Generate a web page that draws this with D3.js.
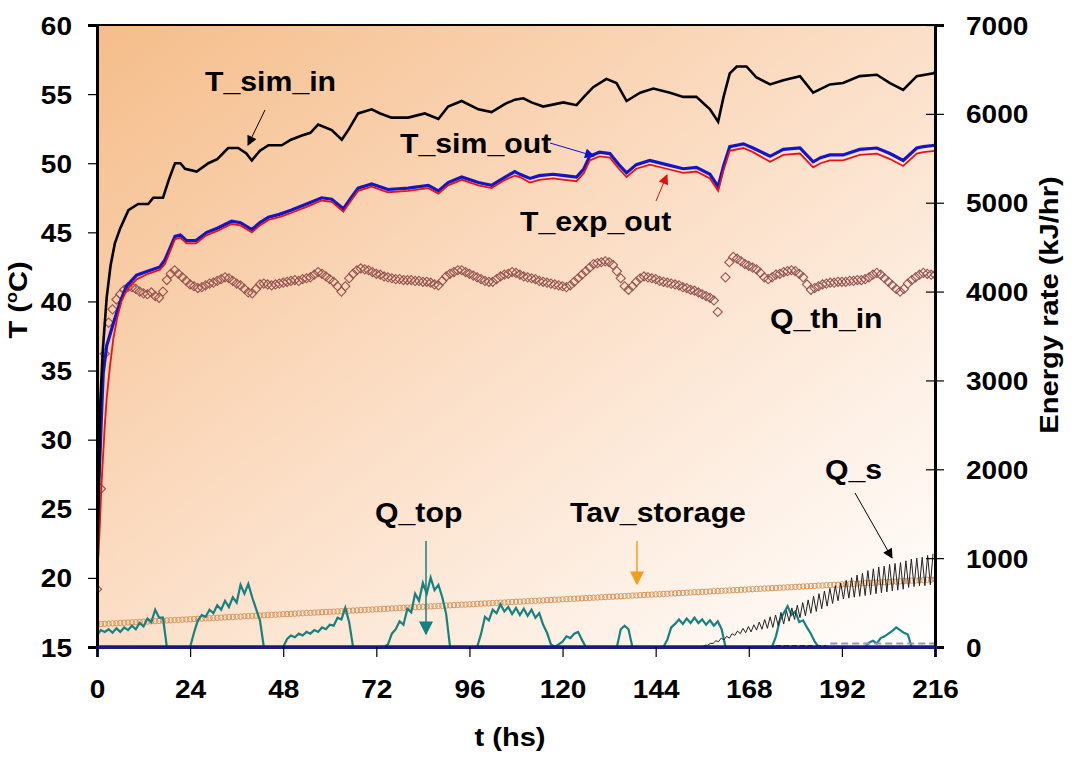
<!DOCTYPE html>
<html>
<head>
<meta charset="utf-8">
<script src="https://cdn.jsdelivr.net/npm/d3@7/dist/d3.min.js"></script>
<style>
  body { margin: 0; background: #fff; }
  svg { display: block; font-family: Arial, "Liberation Sans", sans-serif; font-weight: bold; }
</style>
</head>
<body>
<div id="chart"></div>
<script>
// ---- ticks ----
const hourTicks = [0, 24, 48, 72, 96, 120, 144, 168, 192, 216];
const tempTicks = [15, 20, 25, 30, 35, 40, 45, 50, 55, 60];
const energyTicks = [0, 1000, 2000, 3000, 4000, 5000, 6000, 7000];

// ---- temperature series [t (h), T (C)] ----
const tSimIn = [[0,19.5],[0.4,26],[0.8,32.4],[1.5,36.5],[2.5,40.3],[3.5,42.6],[4.6,44.2],[6,45.3],[8.1,46.6],[10.6,47.05],[13.2,47.05],[14.5,47.5],[17,47.5],[18.5,48.8],[20.1,50.0],[21.5,50.0],[22.7,49.6],[25.7,49.4],[28.7,50.0],[31,50.3],[33.8,51.1],[36.4,51.1],[38.5,50.7],[39.9,50.2],[42,50.9],[44.2,51.3],[47.6,51.3],[50,51.7],[52.8,52.0],[55,52.2],[57,52.8],[60.5,52.4],[63.1,51.7],[65,52.5],[67.3,53.6],[70.8,53.9],[73,53.6],[75.9,53.3],[80.2,53.3],[84.5,53.6],[88,53.2],[90.5,54.1],[94,54.5],[98.3,53.9],[101.7,53.7],[105.2,54.3],[107.7,54.6],[109.9,54.7],[112,54.4],[115,54.1],[120.2,54.4],[123.6,54.2],[125.5,54.8],[127.9,55.5],[131.3,56.1],[133.9,55.8],[136.5,54.5],[140,55.1],[143.4,55.4],[147.7,55.1],[151.1,54.8],[154.5,54.8],[158,53.9],[160.1,53.0],[161.5,54.8],[163.1,56.5],[164.9,57.0],[167.4,57.0],[170,56.2],[173.5,55.7],[176.9,56.0],[181.2,56.3],[184.6,55.1],[188.9,55.7],[192.3,55.8],[196.6,56.3],[201,56.4],[204.4,55.8],[207.8,55.3],[211.3,56.3],[215.6,56.5],[216,56.6]];

const tSimOut = [[0,20],[0.5,27],[1.2,32.1],[1.6,34.8],[2.5,36.8],[4.2,38.4],[6,40],[7.6,41.1],[10.2,41.9],[13.2,42.2],[16.2,42.5],[17.5,43.0],[20.1,44.7],[21.5,44.8],[23.1,44.4],[25.5,44.4],[28.3,45.0],[31,45.3],[34.7,45.8],[37,45.7],[39.9,45.2],[42,45.7],[44.2,46.1],[47,46.3],[50,46.6],[54.5,47.1],[57.9,47.5],[60.5,47.4],[63.5,46.7],[65.5,47.5],[67.3,48.2],[70.8,48.5],[75,48.1],[80.2,48.2],[85.4,48.4],[88,48.0],[90.5,48.6],[94,49.0],[98.3,48.6],[101.7,48.4],[105.2,49.0],[107.7,49.4],[109,49.2],[111.6,48.9],[114,49.1],[117.6,49.2],[120.5,49.1],[123.6,49.0],[125.5,49.6],[127,50.5],[129.5,50.8],[132.2,50.7],[134.5,49.9],[136.5,49.3],[139,49.9],[142.5,50.2],[146.8,49.9],[151.1,49.6],[154.5,49.7],[158,49.2],[160.1,48.3],[161.5,49.8],[163.1,51.2],[166.6,51.4],[169.1,51.1],[173.5,50.5],[176.9,51.0],[181.2,51.1],[184.6,50.1],[186.5,50.4],[188.9,50.6],[192.3,50.6],[196.6,51.0],[201,51.1],[204.4,50.7],[207.8,50.2],[211.3,51.1],[213,51.2],[216,51.3]];

const tExpOut = [[0,19.8],[0.6,23],[1.2,27],[2,31],[2.5,33],[3.3,35.2],[4.2,37.3],[5.2,38.8],[6.3,40],[7.6,40.8],[10.2,41.6],[13.2,42.0],[16.2,42.3],[17.5,42.7],[20.1,44.5],[21.5,44.6],[23.1,44.2],[25.5,44.2],[28.3,44.8],[31,45.1],[34.7,45.6],[37,45.5],[39.9,45.0],[42,45.5],[44.2,45.9],[47,46.1],[50,46.4],[54.5,46.9],[57.9,47.3],[60.5,47.2],[63.5,46.5],[65.5,47.3],[67.3,48.0],[70.8,48.3],[75,47.9],[80.2,48.0],[85.4,48.2],[88,47.8],[90.5,48.4],[94,48.8],[98.3,48.4],[101.7,48.2],[105.2,48.8],[107.7,49.1],[109,49.0],[111.6,48.6],[114,48.8],[117.6,48.9],[120.5,48.8],[123.6,48.7],[125.5,49.3],[127,50.2],[129.5,50.5],[132.2,50.4],[134.5,49.6],[136.5,49.0],[139,49.6],[142.5,49.9],[146.8,49.6],[151.1,49.3],[154.5,49.4],[158,48.9],[160.1,48.0],[161.5,49.5],[163.1,50.9],[166.6,51.1],[169.1,50.8],[173.5,50.1],[176.9,50.6],[181.2,50.7],[184.6,49.7],[186.5,50.0],[188.9,50.2],[192.3,50.2],[196.6,50.6],[201,50.7],[204.4,50.3],[207.8,49.8],[211.3,50.7],[213,50.8],[216,50.9]];

// hourly average storage temperature, t = 0..216
const tavStorage = [
  16.65,16.66,16.68,16.69,16.71,16.72,16.74,16.75,16.77,16.78,16.80,16.81,
  16.83,16.84,16.86,16.87,16.89,16.90,16.92,16.93,16.95,16.96,16.98,16.99,
  17.01,17.02,17.04,17.05,17.07,17.08,17.10,17.11,17.13,17.14,17.16,17.17,
  17.19,17.20,17.22,17.23,17.25,17.26,17.28,17.29,17.31,17.32,17.34,17.35,
  17.37,17.38,17.40,17.41,17.43,17.44,17.46,17.47,17.49,17.50,17.52,17.53,
  17.55,17.56,17.58,17.59,17.61,17.62,17.64,17.65,17.67,17.68,17.70,17.71,
  17.73,17.74,17.76,17.77,17.79,17.80,17.82,17.83,17.85,17.86,17.88,17.89,
  17.91,17.92,17.94,17.95,17.97,17.98,18.00,18.01,18.03,18.04,18.06,18.07,
  18.09,18.10,18.12,18.13,18.15,18.16,18.18,18.19,18.21,18.22,18.24,18.25,
  18.27,18.28,18.30,18.31,18.33,18.34,18.36,18.37,18.39,18.40,18.42,18.43,
  18.45,18.46,18.48,18.49,18.51,18.52,18.54,18.55,18.57,18.58,18.60,18.61,
  18.63,18.64,18.66,18.67,18.69,18.70,18.72,18.73,18.75,18.76,18.78,18.79,
  18.81,18.82,18.84,18.85,18.87,18.88,18.90,18.91,18.93,18.94,18.96,18.97,
  18.99,19.00,19.02,19.03,19.05,19.06,19.08,19.09,19.11,19.12,19.14,19.15,
  19.17,19.18,19.20,19.21,19.23,19.24,19.26,19.27,19.29,19.30,19.32,19.33,
  19.35,19.36,19.38,19.39,19.41,19.42,19.44,19.45,19.47,19.48,19.50,19.51,
  19.53,19.54,19.56,19.57,19.59,19.60,19.62,19.63,19.65,19.66,19.68,19.69,
  19.71,19.72,19.74,19.75,19.77,19.78,19.80,19.81,19.83,19.84,19.86,19.87,
  19.89];

// ---- energy series (kJ/hr) ----
// hourly thermal input, t = 0..216 (null = missing)
const qThIn = [
  650,1780,3300,3650,3800,3910,3970,4020,4050,4050,4030,4000,
  3980,3970,3990,3950,3930,4000,4130,4200,4240,4200,4160,4120,
  4080,4060,4040,4050,4070,4090,4100,4120,4140,4160,4150,4120,
  4090,4070,4030,3990,3980,4030,4080,4090,4080,4070,4080,4090,
  4100,4110,4120,4130,4120,4140,4150,4160,4190,4220,4200,4170,
  4140,4110,4060,4000,4060,4150,4200,4240,4260,4250,4240,4220,
  4200,4190,4170,4160,4150,4140,4140,4130,4130,4130,4120,4120,
  4110,4110,4100,4080,4070,4120,4170,4200,4220,4240,4240,4220,
  4200,4180,4160,4140,4120,4110,4110,4140,4170,4190,4200,4220,
  4210,4190,4170,4160,4150,4140,4120,4110,4100,4090,4080,4070,
  4060,4050,4070,4110,4150,4190,4230,4270,4310,4320,4330,4340,
  4330,4300,4230,4150,4060,4020,4060,4110,4150,4170,4160,4150,
  4140,4120,4110,4100,4090,4080,4070,4050,4040,4020,4010,3990,
  3970,3950,3930,3900,3770,null,4160,4330,4390,4370,4340,4310,
  4290,4270,4250,4210,4160,4140,4160,4190,4200,4220,4230,4240,
  4230,4200,4160,4080,4020,4040,4060,4080,4090,4100,4100,4110,
  4110,4110,4120,4120,4130,4130,4140,4160,4190,4210,4190,4150,
  4110,4070,4030,4000,4030,4090,4130,4160,4190,4210,4200,4190,
  4190];

// hourly top heat rate, t = 0..216
const qTop = [
  130,190,170,200,160,210,170,220,190,240,200,270,
  230,320,280,420,330,330,0,0,0,0,0,0,
  0,160,300,360,340,420,380,470,420,520,450,560,
  500,700,600,710,560,430,300,0,0,0,0,0,
  0,90,130,110,150,130,170,150,190,170,220,200,
  250,240,330,310,440,280,0,0,0,0,0,0,
  0,0,0,30,150,200,290,250,430,390,600,520,
  720,600,780,640,700,560,370,0,0,0,0,0,
  0,0,0,150,340,300,420,380,480,400,450,370,
  440,360,430,350,420,330,380,250,160,30,0,30,
  60,120,100,150,170,80,0,0,0,0,0,0,
  0,0,0,200,240,200,0,0,0,0,0,0,
  0,0,0,80,220,260,310,260,320,270,330,270,
  310,250,300,240,290,200,0,0,0,0,0,0,
  0,0,0,0,0,0,0,120,300,380,460,360,
  400,280,300,220,150,60,0,0,0,0,0,0,
  0,0,0,0,0,0,0,50,70,40,100,120,
  150,180,220,190,160,140,0,0,0,0,0,0,
  0];

// storage heat rate, sampled every 0.7 h from t = 156
const qsStart = 156, qsStep = 0.7;
const qS = [
  0,20, 20,40, 40,70, 60,100, 80,120, 100,150, 130,180, 150,210,
  160,230, 170,250, 190,280, 200,310, 210,340, 220,360, 240,390,
  260,410, 290,440, 310,470, 330,500, 350,530, 380,570, 400,600,
  430,630, 460,660, 490,690, 520,720, 540,750, 550,780, 560,810,
  570,830, 580,860, 590,880, 600,900, 610,910, 620,930, 630,940,
  640,950, 650,970, 670,990, 680,1000, 690,1010, 690,1030, 700,1050];

// near-zero rates
const qLoss = [[0,0],[216,0]];
const qAuxDark = [[175,15],[188,15]];
const qAuxLight = [[189,40],[216,40]];

// ---- layout ----
const W = 1076, H = 761;
const m = { left: 97, right: 935, top: 25, bottom: 647 };
const STRETCH = 1.12;   // the original lettering is a little wider than Arial

const svg = d3.select('#chart').append('svg')
  .attr('width', W).attr('height', H);

const defs = svg.append('defs');
const grad = defs.append('linearGradient').attr('id', 'bg')
  .attr('x1', 0).attr('y1', 0).attr('x2', 1).attr('y2', 1);
grad.append('stop').attr('offset', '0%').attr('stop-color', '#f5bd8a');
grad.append('stop').attr('offset', '45%').attr('stop-color', '#fbdcc2');
grad.append('stop').attr('offset', '100%').attr('stop-color', '#ffffff');

defs.append('clipPath').attr('id', 'clip').append('rect')
  .attr('x', m.left).attr('y', m.top - 2)
  .attr('width', m.right - m.left).attr('height', m.bottom - m.top + 4);

function arrowMarker(id, color, w, h) {
  defs.append('marker').attr('id', id)
    .attr('viewBox', '0 0 10 10').attr('refX', 9).attr('refY', 5)
    .attr('markerUnits', 'userSpaceOnUse')
    .attr('markerWidth', w).attr('markerHeight', h)
    .attr('orient', 'auto')
    .append('path').attr('d', 'M0,0 L10,5 L0,10 Z').attr('fill', color);
}
arrowMarker('arBlack', '#000', 12, 10);
arrowMarker('arBlue', '#1010d0', 12, 10);
arrowMarker('arRed', '#e01010', 12, 10);
arrowMarker('arTeal', '#178080', 14, 14);
arrowMarker('arOrange', '#f0a020', 14, 14);

const x = d3.scaleLinear().domain([0, 216]).range([m.left, m.right]);
const yT = d3.scaleLinear().domain([15, 60]).range([m.bottom, m.top]);
const yE = d3.scaleLinear().domain([0, 7000]).range([m.bottom, m.top]);

svg.append('rect')
  .attr('x', m.left).attr('y', m.top)
  .attr('width', m.right - m.left).attr('height', m.bottom - m.top)
  .attr('fill', 'url(#bg)');

const plot = svg.append('g').attr('clip-path', 'url(#clip)');

const lineT = d3.line().x(d => x(d[0])).y(d => yT(d[1]));
const lineE = d3.line().x(d => x(d[0])).y(d => yE(d[1]));

// Tav_storage circles
plot.append('g').selectAll('circle')
  .data(tavStorage.map((v, i) => [i, v]))
  .join('circle')
  .attr('cx', d => x(d[0])).attr('cy', d => yT(d[1]))
  .attr('r', 2.7)
  .attr('fill', 'none').attr('stroke', '#d8955a').attr('stroke-width', 1);

// Q_top
plot.append('path')
  .datum(qTop.map((v, i) => [i, v]))
  .attr('d', lineE)
  .attr('fill', 'none').attr('stroke', '#178080').attr('stroke-width', 2.2);

// Q_s
plot.append('path')
  .datum(qS.map((v, i) => [qsStart + i * qsStep, v]))
  .attr('d', lineE)
  .attr('fill', 'none').attr('stroke', '#222').attr('stroke-width', 1);

plot.append('path').datum(qAuxDark).attr('d', lineE)
  .attr('fill', 'none').attr('stroke', '#333').attr('stroke-width', 1.5)
  .attr('stroke-dasharray', '5,3');
plot.append('path').datum(qAuxLight).attr('d', lineE)
  .attr('fill', 'none').attr('stroke', '#9a90c8').attr('stroke-width', 2)
  .attr('stroke-dasharray', '7,4');

// Q_th_in diamonds
const diamond = d3.symbol().type(d3.symbolSquare).size(42);
plot.append('g').selectAll('path')
  .data(qThIn.map((v, i) => [i, v]).filter(d => d[1] !== null))
  .join('path')
  .attr('d', diamond)
  .attr('transform', d => `translate(${x(d[0])},${yE(d[1])}) rotate(45)`)
  .attr('fill', 'none').attr('stroke', '#94524f').attr('stroke-width', 1.1);

// temperatures
plot.append('path').datum(tSimOut).attr('d', lineT)
  .attr('fill', 'none').attr('stroke', '#1414c8').attr('stroke-width', 3.2);
plot.append('path').datum(tExpOut).attr('d', lineT)
  .attr('fill', 'none').attr('stroke', '#e81414').attr('stroke-width', 1.8);
plot.append('path').datum(tSimIn).attr('d', lineT)
  .attr('fill', 'none').attr('stroke', '#000').attr('stroke-width', 2.6);

// baseline series at zero
plot.append('path').datum(qLoss).attr('d', lineE)
  .attr('fill', 'none').attr('stroke', '#1a1a78').attr('stroke-width', 3.5);

// ---- frame and axes ----
svg.append('line')
  .attr('x1', m.left).attr('x2', m.right).attr('y1', m.top).attr('y2', m.top)
  .attr('stroke', '#000').attr('stroke-width', 2);

const axL = svg.append('g').attr('transform', `translate(${m.left},0)`)
  .call(d3.axisLeft(yT).tickValues(tempTicks).tickSize(9).tickPadding(16));
const axR = svg.append('g').attr('transform', `translate(${m.right},0)`)
  .call(d3.axisRight(yE).tickValues(energyTicks).tickFormat(d3.format('d'))
    .tickSize(9).tickPadding(22));
axR.selectAll('.tick line').attr('x1', -9);
const axB = svg.append('g').attr('transform', `translate(0,${m.bottom})`)
  .call(d3.axisBottom(x).tickValues(hourTicks).tickSize(10).tickPadding(28));

[axL, axR, axB].forEach(a => {
  a.select('.domain').attr('stroke', '#000').attr('stroke-width', 3);
  a.selectAll('.tick line').attr('stroke', '#000').attr('stroke-width', 1.2);
  a.selectAll('.tick text').attr('fill', '#000')
    .style('font-size', '25px').style('font-weight', 'bold')
    .style('font-family', 'Arial, "Liberation Sans", sans-serif');
});
axB.select('.domain').attr('stroke', '#1a1a78');
axL.selectAll('.tick text').attr('dy', '0.36em');
axR.selectAll('.tick text').attr('dy', '0.36em');
axB.selectAll('.tick text').attr('dy', '0.5em');

// axis titles
svg.append('text')
  .attr('x', 510).attr('y', 746).attr('text-anchor', 'middle')
  .style('font-size', '26px').text('t (hs)');

const yTitle = svg.append('text')
  .attr('transform', 'translate(27,300) rotate(-90)')
  .attr('text-anchor', 'middle').style('font-size', '26px');
yTitle.append('tspan').text('T (');
yTitle.append('tspan').text('o').style('font-size', '16px').attr('dy', -10);
yTitle.append('tspan').text('C)').attr('dy', 10);

svg.append('text')
  .attr('transform', 'translate(1058,305) rotate(-90)')
  .attr('text-anchor', 'middle').style('font-size', '26px')
  .text('Energy rate (kJ/hr)');

// ---- annotations ----
const labels = [
  { text: 'T_sim_in', x: 205, y: 91 },
  { text: 'T_sim_out', x: 400, y: 153 },
  { text: 'T_exp_out', x: 520, y: 231 },
  { text: 'Q_th_in', x: 770, y: 328 },
  { text: 'Q_top', x: 375, y: 522 },
  { text: 'Tav_storage', x: 570, y: 522 },
  { text: 'Q_s', x: 825, y: 479 }
];
svg.append('g').selectAll('text').data(labels).join('text')
  .attr('x', d => d.x).attr('y', d => d.y)
  .style('font-size', '27px').attr('fill', '#000')
  .text(d => d.text);

const arrows = [
  { x1: 265, y1: 110, x2: 248, y2: 145, c: '#000', w: 1, mk: 'arBlack' },
  { x1: 550, y1: 143, x2: 594, y2: 156, c: '#1010d0', w: 1, mk: 'arBlue' },
  { x1: 656, y1: 201, x2: 667, y2: 175, c: '#e01010', w: 1, mk: 'arRed' },
  { x1: 426, y1: 541, x2: 426, y2: 634, c: '#178080', w: 1.5, mk: 'arTeal' },
  { x1: 637, y1: 541, x2: 637, y2: 584, c: '#f0a020', w: 1.5, mk: 'arOrange' },
  { x1: 855, y1: 493, x2: 892, y2: 558, c: '#000', w: 1, mk: 'arBlack' }
];
svg.append('g').selectAll('line').data(arrows).join('line')
  .attr('x1', d => d.x1).attr('y1', d => d.y1)
  .attr('x2', d => d.x2).attr('y2', d => d.y2)
  .attr('stroke', d => d.c).attr('stroke-width', d => d.w)
  .attr('marker-end', d => `url(#${d.mk})`);

// widen all lettering to match the original proportions
svg.selectAll('text').each(function () {
  const len = this.getComputedTextLength();
  if (len > 0) {
    d3.select(this).attr('textLength', len * STRETCH).attr('lengthAdjust', 'spacingAndGlyphs');
  }
});
</script>
</body>
</html>
